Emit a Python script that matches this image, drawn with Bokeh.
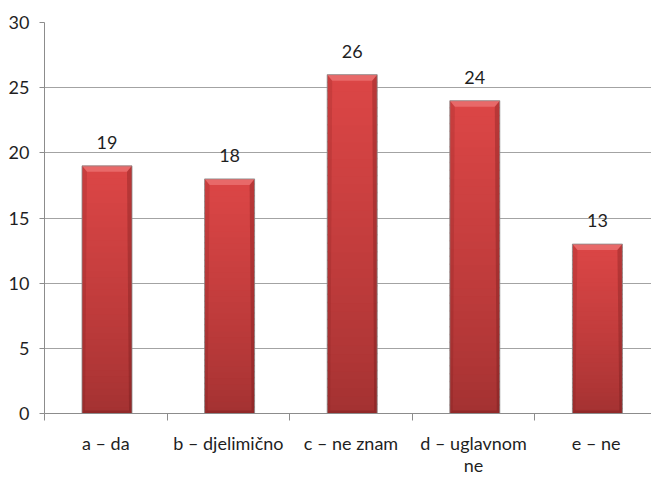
import numpy as np
from bokeh.plotting import figure
from bokeh.models import Range1d, FixedTicker, ColumnDataSource
from bokeh.embed import file_html
from bokeh.resources import INLINE

# --- data -------------------------------------------------------------
categories = ["a – da", "b – djelimično", "c – ne znam", "d – uglavnom\nne", "e – ne"]
counts = [19, 18, 26, 24, 13]
y_ticks = [0, 5, 10, 15, 20, 25, 30]

# --- layout -----------------------------------------------------------
W, H = 651, 478
LEFT, TOP, BOTTOM = 44, 22, 65
CAT_PX = 122.6                      # pixels per category slot
frame_w = W - LEFT
frame_h = H - TOP - BOTTOM
Y_MAX = 30
x_end = frame_w / CAT_PX
px_x = 1.0 / CAT_PX                 # one screen pixel in x data units
px_y = Y_MAX / frame_h              # one screen pixel in y data units

FONT = "Lato"
TEXT_COLOR = "#1f1f1f"

n = len(categories)
centers = [i + 0.5 for i in range(n)]
bar_x = [c + 1.2 * px_x for c in centers]
bar_w = 50 * px_x

p = figure(width=W, height=H, x_range=Range1d(0, x_end), y_range=Range1d(0, Y_MAX),
           output_backend="svg", toolbar_location=None,
           min_border_left=LEFT, min_border_right=0,
           min_border_top=TOP, min_border_bottom=BOTTOM)
p.outline_line_color = None
p.background_fill_color = "white"
p.border_fill_color = "white"

# grid
p.xgrid.visible = False
p.ygrid.ticker = FixedTicker(ticks=y_ticks)
p.ygrid.grid_line_color = "#a3a3a3"
p.ygrid.grid_line_width = 1

# y axis
p.yaxis.ticker = FixedTicker(ticks=y_ticks, minor_ticks=[])
p.yaxis.axis_line_color = "#8c8c8c"
p.yaxis.major_tick_line_color = "#8c8c8c"
p.yaxis.major_tick_out = 5
p.yaxis.major_tick_in = 0
p.yaxis.minor_tick_line_color = None
p.yaxis.major_label_standoff = 10
p.yaxis.major_label_text_font = FONT
p.yaxis.major_label_text_font_size = "18px"
p.yaxis.major_label_text_color = TEXT_COLOR

# x axis: labels at slot centres, tick marks at slot boundaries
p.xaxis.ticker = FixedTicker(ticks=centers, minor_ticks=list(range(n + 1)))
p.xaxis.major_label_overrides = {c: lab for c, lab in zip(centers, categories)}
p.xaxis.axis_line_color = "#8c8c8c"
p.xaxis.major_tick_line_color = None
p.xaxis.major_tick_out = 0
p.xaxis.major_tick_in = 0
p.xaxis.minor_tick_line_color = "#8c8c8c"
p.xaxis.minor_tick_out = 7
p.xaxis.minor_tick_in = 0
p.xaxis.major_label_standoff = 11
p.xaxis.major_label_text_font = FONT
p.xaxis.major_label_text_font_size = "18px"
p.xaxis.major_label_text_color = TEXT_COLOR
p.xaxis.major_label_text_line_height = 1.0


def mix(c0, c1, t):
    a = np.array([int(c0[i:i + 2], 16) for i in (1, 3, 5)], dtype=float)
    b = np.array([int(c1[i:i + 2], 16) for i in (1, 3, 5)], dtype=float)
    r = a + (b - a) * t
    return "#%02x%02x%02x" % tuple(int(round(v)) for v in r)


# bar body: vertical gradient, dark at the base and bright near the top
BOTTOM_RED = "#a23131"
TOP_RED = "#dc4646"
N_SLICES = 40
sx, sb, st, sc = [], [], [], []
for x, v in zip(bar_x, counts):
    for k in range(N_SLICES):
        t = (k + 0.5) / N_SLICES
        sx.append(x)
        sb.append(v * k / N_SLICES)
        st.append(min(v, v * (k + 1) / N_SLICES + 1.5 * px_y))
        sc.append(mix(BOTTOM_RED, TOP_RED, t ** 0.8))
p.vbar(x=sx, bottom=sb, top=st, width=bar_w, fill_color=sc, line_color=None)

# bevel edges
bev_x = 5 * px_x
bev_y = 6 * px_y
top_xs, top_ys, left_xs, left_ys, right_xs, right_ys, base_xs, base_ys = [], [], [], [], [], [], [], []
for x, v in zip(bar_x, counts):
    l, r = x - bar_w / 2, x + bar_w / 2
    top_xs.append([l, r, r - bev_x, l + bev_x])
    top_ys.append([v, v, v - bev_y, v - bev_y])
    left_xs.append([l, l + bev_x, l + 3 * px_x, l])
    left_ys.append([v, v - bev_y, 3 * px_y, 0])
    right_xs.append([r, r - bev_x, r - 3 * px_x, r])
    right_ys.append([v, v - bev_y, 3 * px_y, 0])
    base_xs.append([l, r, r - 3 * px_x, l + 3 * px_x])
    base_ys.append([0, 0, 3 * px_y, 3 * px_y])

p.patches(top_xs, top_ys, fill_color="#f08080", fill_alpha=0.6, line_color=None)
p.patches(left_xs, left_ys, fill_color="#5a1010", fill_alpha=0.14, line_color=None)
p.patches(right_xs, right_ys, fill_color="#5a1010", fill_alpha=0.26, line_color=None)
p.patches(base_xs, base_ys, fill_color="#5a1010", fill_alpha=0.25, line_color=None)

# thin grey outline
p.vbar(x=bar_x, bottom=0, top=counts, width=bar_w, fill_color=None,
       line_color="#8a8a8a", line_alpha=0.8, line_width=1)

# value labels
src = ColumnDataSource(dict(x=bar_x, y=counts, label=[str(v) for v in counts]))
p.text(x="x", y="y", text="label", source=src, text_align="center",
       text_baseline="bottom", y_offset=-17, text_font_size="18px",
       text_font={"value": FONT}, text_color=TEXT_COLOR)

open("out.html", "w").write(file_html(p, INLINE))
